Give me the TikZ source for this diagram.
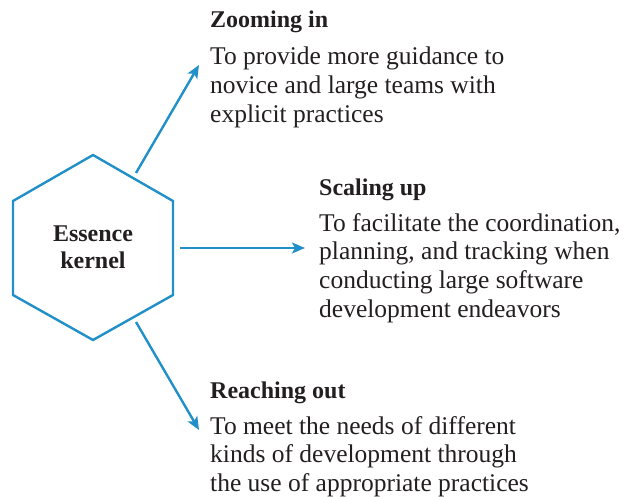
\documentclass[tikz,border=0pt]{standalone}
\usepackage{fontspec}
\setmainfont{Liberation Serif}
\usetikzlibrary{arrows.meta}
\definecolor{kblue}{HTML}{2290C8}
\definecolor{ktext}{HTML}{231F20}
\begin{document}
\begin{tikzpicture}[x=1pt,y=-1pt,
  conn/.style={draw=kblue,line width=2.4pt,-{Stealth[length=13pt,width=11pt,inset=3pt]}},
  head/.style={anchor=base west,inner sep=0pt,text=ktext,font=\fontsize{24}{27}\selectfont\bfseries},
  body/.style={anchor=north west,inner sep=0pt,text=ktext,align=left,font=\fontsize{25.5}{28.7}\selectfont}]
\useasboundingbox (0,0) rectangle (635,497);
\draw[kblue,line width=2.4pt,line join=miter]
  (93,155) coordinate (h1) -- (173,201) -- (173,295) -- (93,340) -- (13,295) -- (13,201) -- cycle;
\node[text=ktext,align=center,inner sep=0pt,font=\fontsize{24}{27}\selectfont\bfseries] (core) at (93,247.5) {Essence\\kernel};
\coordinate (s1) at (136,173);
\coordinate (s2) at (180,248);
\coordinate (s3) at (136,322);
\coordinate (e1) at (199,65);
\coordinate (e2) at (305,248);
\coordinate (e3) at (199,430);
\draw[conn] (s1) -- (e1);
\draw[conn] (s2) -- (e2);
\draw[conn] (s3) -- (e3);
\node[head] (t1) at (210,28) {Zooming in};
\node[body] (b1) at (210,47) {To provide more guidance to\\novice and large teams with\\explicit practices};
\node[head] (t2) at (319,196) {Scaling up};
\node[body] (b2) at (319,213) {To facilitate the coordination,\\planning, and tracking when\\conducting large software\\development endeavors};
\node[head] (t3) at (210,398) {Reaching out};
\node[body] (b3) at (210,416) {To meet the needs of different\\kinds of development through\\the use of appropriate practices};
\end{tikzpicture}
\end{document}
